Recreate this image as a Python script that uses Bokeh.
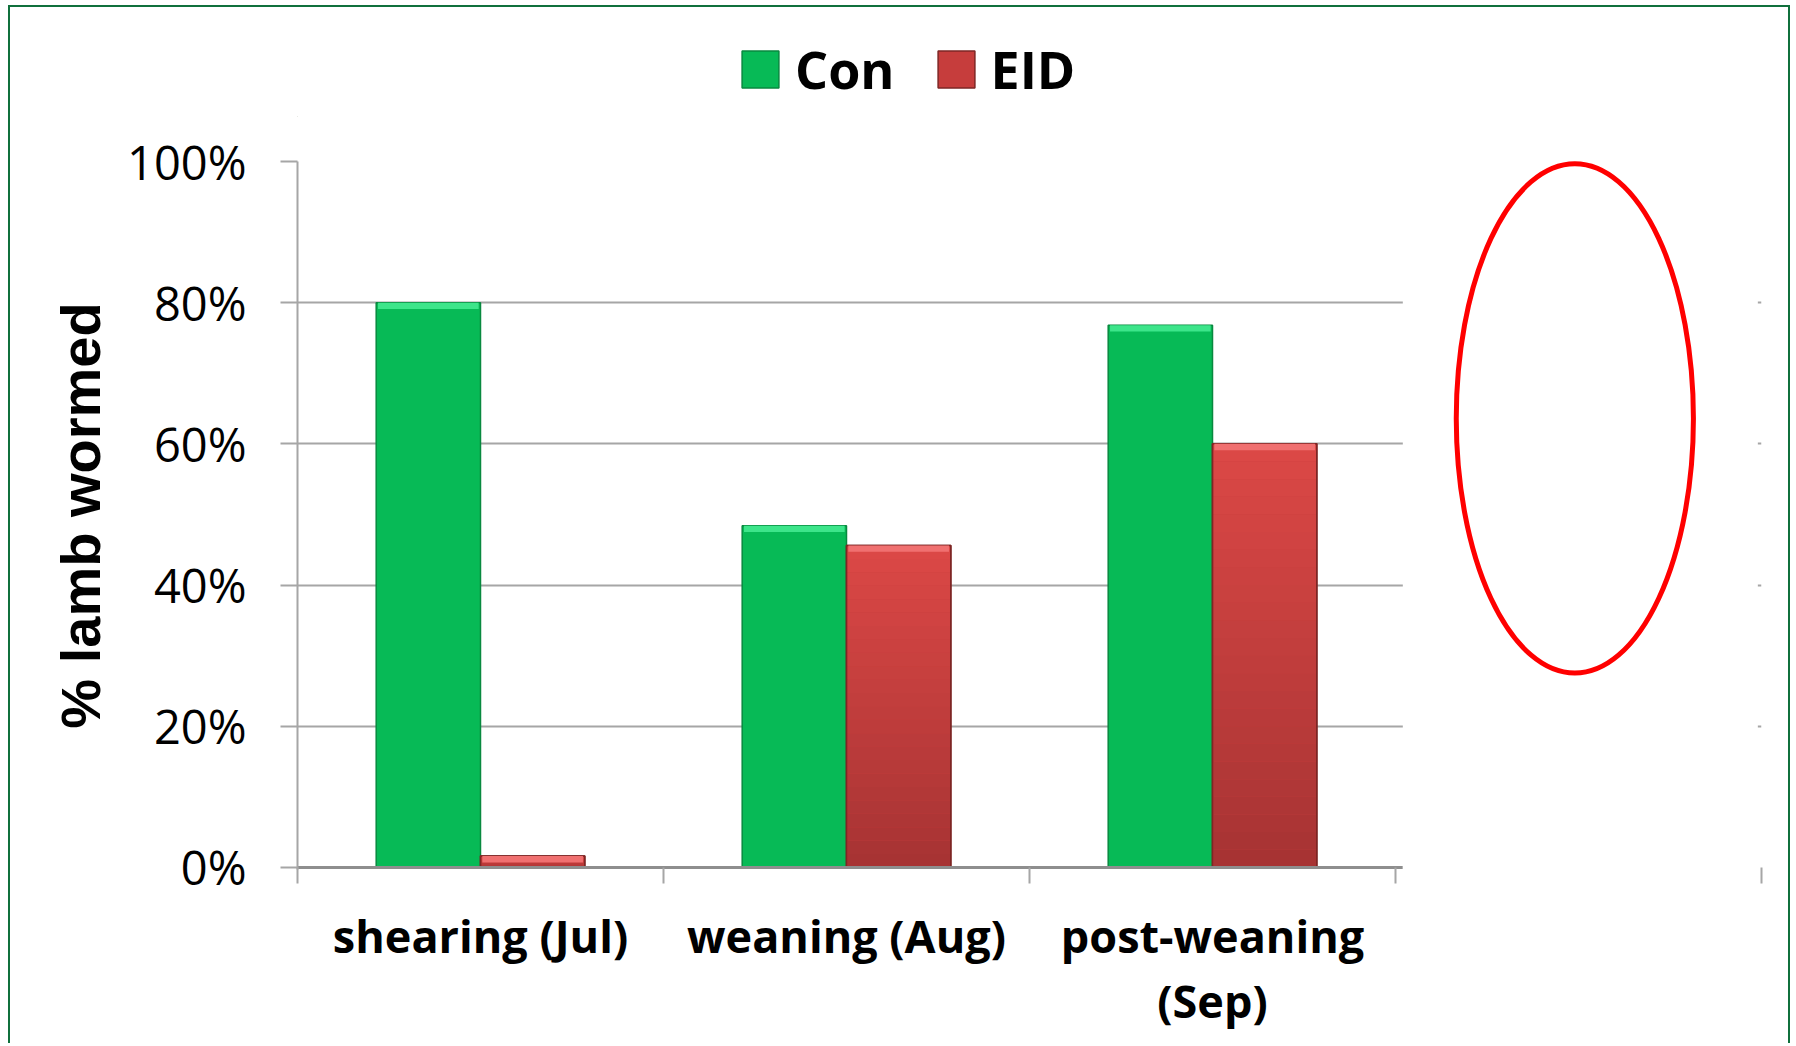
from bokeh.plotting import figure
from bokeh.layouts import column
from bokeh.models import (Range1d, FixedTicker, LinearAxis, NumeralTickFormatter,
                          Legend, LegendItem, BoxAnnotation, Grid, ColumnDataSource)
from bokeh.embed import file_html
from bokeh.resources import INLINE

# ---- data ----
categories = ["shearing (Jul)", "weaning (Aug)", "post-weaning\n(Sep)"]
con_values = [0.80, 0.484, 0.768]
eid_values = [0.016, 0.456, 0.60]
series_names = ["Con", "EID"]
y_ticks = [0.0, 0.2, 0.4, 0.6, 0.8, 1.0]
n_slots = 4  # the chart has a fourth, empty category slot

# ---- styling constants ----
BAR_W = 0.285
GREEN = "#07ba56"
GREEN_EDGE = "#08893f"
GREEN_TOP = "#3de58a"
RED_MID = "#c63d3c"
RED_TOP = (0xdc, 0x48, 0x46)
RED_BOT = (0xa6, 0x33, 0x33)
RED_EDGE = "#7e2624"
RED_HI = "#f07070"
GRID = "#a6a6a6"
BORDER = "2px solid #10703c"

W = 1778
LH = 110          # legend strip height
MH = 926          # main chart height
BL, BR = 287, 27  # left / right borders shared by both strips


def strip_grids(fig):
    fig.center = [r for r in fig.center if not isinstance(r, Grid)]


# ================= legend strip =================
lf = figure(width=W, height=LH, output_backend="svg", toolbar_location=None,
            x_range=Range1d(0, 1), y_range=Range1d(0, 1),
            x_axis_location=None, y_axis_location=None,
            min_border_left=BL, min_border_right=BR,
            min_border_top=0, min_border_bottom=0)
strip_grids(lf)
lf.outline_line_color = None
# stand-in renderers for the legend keys (their single bar lies outside the view)
key_src = ColumnDataSource(dict(x=[-5.0], top=[0.0]))
lr_con = lf.vbar(x="x", top="top", width=0.1, source=key_src,
                 fill_color=GREEN, line_color=GREEN_EDGE, line_width=1.5)
lr_eid = lf.vbar(x="x", top="top", width=0.1, source=key_src,
                 fill_color=RED_MID, line_color=RED_EDGE, line_width=1.5)
legend = Legend(items=[LegendItem(label=series_names[0], renderers=[lr_con]),
                       LegendItem(label=series_names[1], renderers=[lr_eid])],
                orientation="horizontal", location=(440, 13),
                glyph_width=46, glyph_height=46, label_height=46,
                label_standoff=12, spacing=38,
                padding=0, margin=0, border_line_color=None,
                background_fill_alpha=0,
                label_text_font="Open Sans", label_text_font_style="bold",
                label_text_font_size="52px", label_text_color="black",
                label_text_baseline="alphabetic")
lf.add_layout(legend)

# ================= main chart =================
p = figure(width=W, height=MH, output_backend="svg", toolbar_location=None,
           x_range=Range1d(0, n_slots), y_range=Range1d(-0.003, 1),
           x_axis_location=None, y_axis_location=None,
           min_border_left=BL, min_border_right=BR,
           min_border_top=44, min_border_bottom=174)
strip_grids(p)
p.outline_line_color = None

# grid
p.add_layout(Grid(dimension=1, ticker=FixedTicker(ticks=y_ticks[1:]),
                  grid_line_color=GRID, grid_line_width=2))

# left axis
yax = LinearAxis(ticker=FixedTicker(ticks=y_ticks),
                 formatter=NumeralTickFormatter(format="0%"),
                 axis_label="% lamb wormed",
                 axis_label_text_font="Liberation Sans",
                 axis_label_text_font_style="bold",
                 axis_label_text_font_size="56px",
                 axis_label_text_color="black",
                 axis_label_standoff=12,
                 axis_line_color=GRID, axis_line_width=2,
                 major_tick_out=17, major_tick_in=0,
                 major_tick_line_color=GRID, major_tick_line_width=2,
                 minor_tick_line_color=None,
                 major_label_standoff=34,
                 major_label_text_font="Open Sans",
                 major_label_text_font_size="47px",
                 major_label_text_color="black")
p.add_layout(yax, "left")

# bottom axis: tick marks at category boundaries
bounds = list(range(n_slots + 1))
xax_ticks = LinearAxis(ticker=FixedTicker(ticks=bounds),
                       major_label_overrides={b: "" for b in bounds},
                       axis_line_color=None,
                       major_tick_out=14, major_tick_in=2,
                       major_tick_line_color=GRID, major_tick_line_width=2,
                       minor_tick_line_color=None,
                       major_label_text_font_size="1px",
                       major_label_standoff=0)
p.add_layout(xax_ticks, "below")

# bottom axis: category labels at centres
centers = [i + 0.5 for i in range(len(categories))]
xax_labels = LinearAxis(ticker=FixedTicker(ticks=centers),
                        major_label_overrides={c: lab for c, lab in zip(centers, categories)},
                        axis_line_color=None, major_tick_line_color=None,
                        minor_tick_line_color=None,
                        major_label_standoff=15,
                        major_label_text_font="Open Sans",
                        major_label_text_font_style="bold",
                        major_label_text_font_size="45px",
                        major_label_text_line_height=1.078,
                        major_label_text_color="black")
p.add_layout(xax_labels, "below")

# ---- bars ----
x_con = [c - BAR_W / 2 for c in centers]
x_eid = [c + BAR_W / 2 for c in centers]

src = ColumnDataSource(dict(x_con=x_con, x_eid=x_eid, con=con_values, eid=eid_values))
r_con = p.vbar(x="x_con", top="con", bottom=0, width=BAR_W, source=src,
               fill_color=GREEN, line_color=GREEN_EDGE, line_width=1.5)
r_eid = p.vbar(x="x_eid", top="eid", bottom=0, width=BAR_W, source=src,
               fill_color=RED_MID, line_color=RED_EDGE, line_width=1.5)

# vertical shading of the red bars (bottom dark -> top light)
N = 24
gx, gb, gt, gc = [], [], [], []
for x, v in zip(x_eid, eid_values):
    for k in range(N):
        f = (k + 0.5) / N
        col = tuple(int(round(RED_BOT[i] + (RED_TOP[i] - RED_BOT[i]) * f)) for i in range(3))
        gx.append(x)
        gb.append(v * k / N)
        gt.append(v * (k + 1) / N)
        gc.append("#%02x%02x%02x" % col)
p.vbar(x=gx, bottom=gb, top=gt, width=BAR_W - 0.004, fill_color=gc, line_color=None)
p.vbar(x="x_eid", top="eid", bottom=0, width=BAR_W, source=src,
       fill_color=None, line_color=RED_EDGE, line_width=1.5)

# bevel highlight at the top of each bar
HI = 0.009
p.vbar(x=x_con, top=con_values, bottom=[v - HI for v in con_values],
       width=BAR_W - 0.01, fill_color=GREEN_TOP, line_color=None)
p.vbar(x=x_eid, top=eid_values, bottom=[max(v - HI, v * 0.3) for v in eid_values],
       width=BAR_W - 0.01, fill_color=RED_HI, line_color=None)

# white block hiding the empty fourth slot's gridlines
p.add_layout(BoxAnnotation(left=len(categories) + 0.02, right=n_slots - 0.01,
                           bottom=-0.03, top=1.02, fill_color="white", fill_alpha=1,
                           line_color=None))

# 0% axis line (stops at the end of the third category, as in the original)
p.segment(x0=[0], y0=[0], x1=[len(categories) + 0.02], y1=[0],
          line_color="#8e8e8e", line_width=3)

# red oval drawn over the empty slot
ov = p.ellipse(x=[n_slots - 0.51], y=[0.636], width=[0.648], height=[0.7215],
               fill_color=None, line_color="#ff0000", line_width=5)
ov.level = "overlay"

page = column(lf, p, spacing=0)
page.styles = {"margin-left": "8px", "margin-top": "5px",
               "border-top": BORDER, "border-left": BORDER, "border-right": BORDER}

open("out.html", "w").write(file_html(page, INLINE))
